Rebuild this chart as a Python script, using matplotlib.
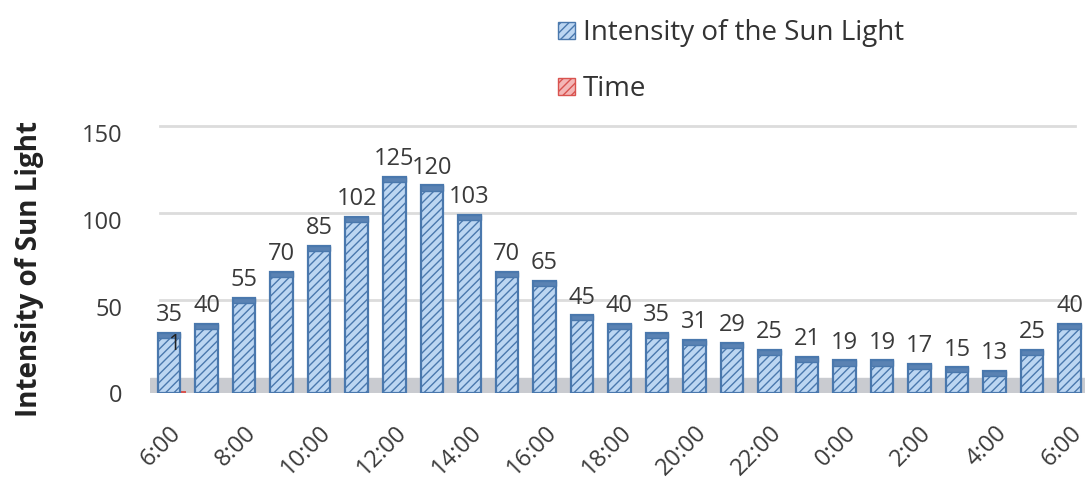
import matplotlib.pyplot as plt
from matplotlib.patches import Patch
import numpy as np

plt.rcParams['font.family'] = ['Open Sans', 'DejaVu Sans']

# hourly readings from 6:00 to 6:00 next day
hours = ["6:00", "7:00", "8:00", "9:00", "10:00", "11:00", "12:00", "13:00",
         "14:00", "15:00", "16:00", "17:00", "18:00", "19:00", "20:00", "21:00",
         "22:00", "23:00", "0:00", "1:00", "2:00", "3:00", "4:00", "5:00", "6:00"]
intensity = [35, 40, 55, 70, 85, 102, 125, 120, 103, 70, 65, 45, 40, 35, 31,
             29, 25, 21, 19, 19, 17, 15, 13, 25, 40]
time_vals = [1]
yticks = [0, 50, 100, 150]

bar_face = "#bcd6f2"
bar_edge = "#4a78ad"
cap_color = "#5a82b3"
time_color = "#d9534f"
text_color = "#3a3a3a"

fig = plt.figure(figsize=(10.9, 4.94), dpi=100)
ax = fig.add_axes([0.138, 0.204, 0.857, 0.561])

x = np.arange(len(hours))

# floor band and back-wall grid
ax.axhspan(0, 9, color="#c9cbd0", zorder=0)
for v in yticks[1:]:
    ax.axhline(v + 4, xmin=0.01, xmax=0.99, color="#dcdcdc", lw=2, zorder=0)

# tiny time series bar sitting on the floor
tx = np.arange(len(time_vals))
ax.bar(tx + 0.3, time_vals, width=0.3, color=time_color, zorder=1)
for i, v in enumerate(time_vals):
    ax.annotate(str(v), (tx[i] + 0.12, v), xytext=(0, 26), textcoords="offset points",
                ha="center", va="bottom", fontsize=15, color="#222222", zorder=5)

bars = ax.bar(x, intensity, width=0.6, color=bar_face, edgecolor=bar_edge,
              linewidth=1.6, hatch="////", zorder=2)
# darker top cap for the 3D look
ax.bar(x, [3] * len(x), bottom=np.array(intensity) - 3, width=0.6,
       color=cap_color, edgecolor=bar_edge, linewidth=1.0, zorder=3)

for xi, v in zip(x, intensity):
    ax.annotate(str(v), (xi, v), xytext=(0, 4), textcoords="offset points",
                ha="center", va="bottom", fontsize=17, color=text_color, zorder=5)

ax.set_xlim(-0.5, 24.4)
ax.set_ylim(0, 160)
ax.set_yticks(yticks)
ax.set_yticklabels([str(v) for v in yticks], fontsize=17, color=text_color)
ax.set_xticks(x[::2])
ax.set_xticklabels(hours[::2], rotation=45, ha="right", rotation_mode="anchor",
                   fontsize=17, color=text_color)
ax.tick_params(axis="y", length=0, pad=20)
ax.tick_params(axis="x", length=0, pad=20)
for s in ax.spines.values():
    s.set_visible(False)

ax.set_ylabel("Intensity of Sun Light", fontsize=20, fontweight="bold",
              color="#222222")
ax.yaxis.set_label_coords(-0.114, 0.45)

handles = [Patch(facecolor=bar_face, edgecolor=bar_edge, hatch="////"),
           Patch(facecolor="#f3b6b6", edgecolor=time_color, hatch="////")]
fig.legend(handles, ["Intensity of the Sun Light", "Time"], loc="upper left",
           bbox_to_anchor=(0.494, 1.0), frameon=False, fontsize=20,
           borderpad=0.2, labelspacing=1.0, handlelength=0.6, handleheight=0.6,
           handletextpad=0.3, labelcolor="#333333")

fig.savefig("out.png", dpi=100)
